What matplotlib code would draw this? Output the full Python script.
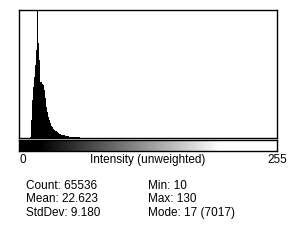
import numpy as np
import matplotlib
matplotlib.use("Agg")
import matplotlib.pyplot as plt

plt.rcParams['font.family'] = ['Liberation Sans', 'DejaVu Sans']

# Histogram data (bin value -> count)
bins_main = list(range(10, 67))
counts_main = [50, 990, 2090, 2800, 3350, 4000, 4830, 7017, 5210, 4280,
               3070, 3070, 2960, 2900, 2630, 2190, 1700, 1420, 1150, 990,
               820, 660, 600, 490, 440, 380, 380, 330, 270, 220,
               220, 190, 170, 160, 150, 130, 110, 100, 90, 80,
               70, 60, 60, 50, 50, 40, 40, 30, 30, 30,
               20, 20, 15, 15, 10, 10, 10]
bins_tail = [70, 75, 80, 85, 90, 100, 110, 120, 130]
counts_tail = [8, 6, 5, 4, 3, 2, 2, 1, 1]

stats_left = ["Count: 65536", "Mean: 22.623", "StdDev: 9.180"]
stats_right = ["Min: 10", "Max: 130", "Mode: 17 (7017)"]
x_label = "Intensity (unweighted)"
x_min_label = "0"
x_max_label = "255"
display_lo, display_hi = 20, 200

W, H = 300, 240
fig = plt.figure(figsize=(W / 100, H / 100), dpi=100)
fig.patch.set_facecolor('white')

def rect(x0, y0, x1, y1):
    return [x0 / W, 1 - y1 / H, (x1 - x0) / W, (y1 - y0) / H]

ax = fig.add_axes(rect(19, 10, 277, 138))
ax.bar(bins_main + bins_tail, counts_main + counts_tail, width=1, align='edge',
       color='black', linewidth=0)
ax.set_xlim(-1, 257)
ax.set_ylim(0, 7017)
ax.set_xticks([])
ax.set_yticks([])
for s in ax.spines.values():
    s.set_linewidth(1.0)
    s.set_color('black')

gx = fig.add_axes(rect(19, 140, 277, 151))
ramp = np.arange(256).reshape(1, -1)
gx.imshow(ramp, cmap='gray', vmin=display_lo, vmax=display_hi, aspect='auto',
          extent=(-0.5, 255.5, 0, 1), interpolation='nearest')
gx.set_xlim(-1, 257)
gx.set_ylim(0, 1)
gx.set_xticks([])
gx.set_yticks([])
for s in gx.spines.values():
    s.set_linewidth(1.0)
    s.set_color('black')

fs = 8.5
def ftext(x, y, s, ha='left'):
    fig.text(x / W, 1 - y / H, s, ha=ha, va='center', fontsize=fs, color='black')

ftext(19, 160, x_min_label)
ftext(148, 160, x_label, ha='center')
ftext(287, 160, x_max_label, ha='right')
for i, (a, b) in enumerate(zip(stats_left, stats_right)):
    ftext(26, 186 + 13.5 * i, a)
    ftext(148, 186 + 13.5 * i, b)

fig.savefig('out.png', dpi=100, facecolor='white')
